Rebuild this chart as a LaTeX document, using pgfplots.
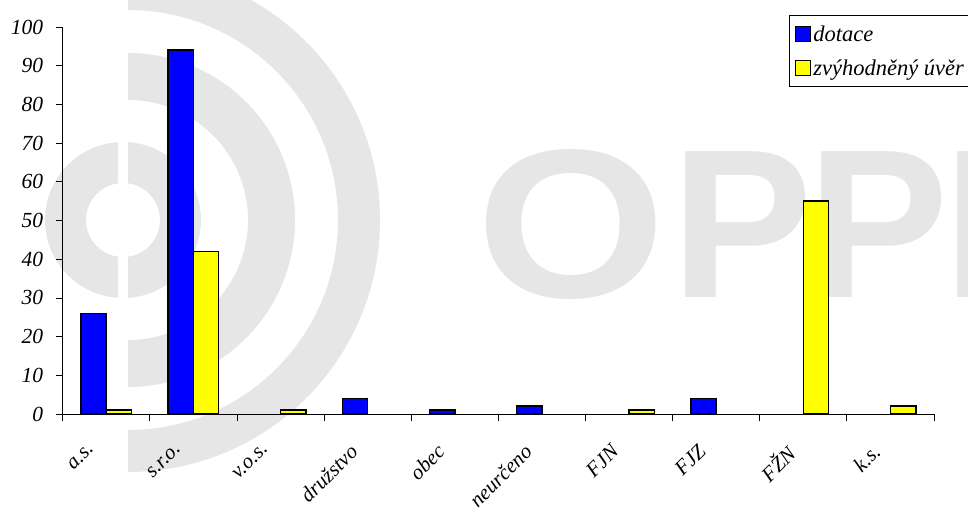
\documentclass[border=0pt]{standalone}
\usepackage{fontspec}
\setmainfont{Liberation Serif}
\newfontfamily\wmfont{Liberation Sans}
\usepackage{pgfplots}
\pgfplotsset{compat=1.18}
\definecolor{wm}{RGB}{230,230,230}
\definecolor{barblue}{RGB}{0,0,255}
\definecolor{baryellow}{RGB}{255,255,0}
\begin{document}
\begin{tikzpicture}[x=1pt,y=1pt]
\path[use as bounding box] (0,0) rectangle (968,512);
\clip (0,0) rectangle (968,512);
% watermark
\fill[wm,even odd rule] (123,292) circle (78) (123,292) circle (37);
\fill[white] (118,200) rectangle (128,384);
\fill[wm] (128,125) arc[start angle=-90,end angle=90,radius=167] -- (128,412) arc[start angle=90,end angle=-90,radius=120] -- cycle;
\fill[wm] (128,40) arc[start angle=-90,end angle=90,radius=252] -- (128,502) arc[start angle=90,end angle=-90,radius=210] -- cycle;
\node[wm,anchor=base,inner sep=0,xscale=1.15] at (571,215) {\wmfont\bfseries\fontsize{212}{212}\selectfont O};
\node[wm,anchor=base,inner sep=0] at (742,215) {\wmfont\bfseries\fontsize{212}{212}\selectfont P};
\node[wm,anchor=base,inner sep=0] at (878,215) {\wmfont\bfseries\fontsize{212}{212}\selectfont P};
\node[wm,anchor=base west,inner sep=0] at (943,215) {\wmfont\bfseries\fontsize{212}{212}\selectfont I};
\begin{axis}[
  scale only axis, width=871.3pt, height=387pt,
  at={(62.7pt,98pt)}, anchor=south west,
  xmin=-0.5, xmax=9.5, ymin=0, ymax=100,
  axis x line=bottom, axis y line=left,
  axis line style={-, line width=0.8pt, black},
  ytick={0,10,...,100},
  xtick={-0.5,0.5,...,9.5},
  x tick label as interval,
  xticklabels={a.s.,s.r.o.,v.o.s.,družstvo,obec,neurčeno,FJN,FJZ,FŽN,k.s.},
  tick align=outside, major tick length=7pt,
  tick style={black, line width=0.8pt},
  /pgf/number format/assume math mode=true,
  xticklabel style={rotate=45, anchor=north east, font=\fontsize{21}{24}\selectfont\itshape, xshift=-25.5pt, yshift=1.4pt},
  yticklabel style={font=\fontsize{21.5}{24}\selectfont\itshape, xshift=-9pt},
  ybar, bar width=25.3pt,
  legend style={at={(axis description cs:0.8339,1.031)}, anchor=north west, draw=black, line width=0.8pt,
    font=\fontsize{22.5}{26}\selectfont\itshape, legend cell align=left, row sep=13pt, inner xsep=5pt, inner ysep=8pt},
  legend image code/.code={\draw[#1,/tikz/.cd,yshift=-0.25em] (0pt,-5pt) rectangle (15pt,10pt);},
]
\addplot[fill=barblue, draw=black, line width=1.6pt, bar shift=-12.65pt] coordinates {(0,26) (1,94) (3,4) (4,1) (5,2) (7,4)};
\addplot[fill=baryellow, draw=black, line width=1.6pt, bar shift=12.65pt] coordinates {(0,1) (1,42) (2,1) (6,1) (8,55) (9,2)};
\legend{dotace, zvýhodněný úvěr}
\end{axis}
\end{tikzpicture}
\end{document}
